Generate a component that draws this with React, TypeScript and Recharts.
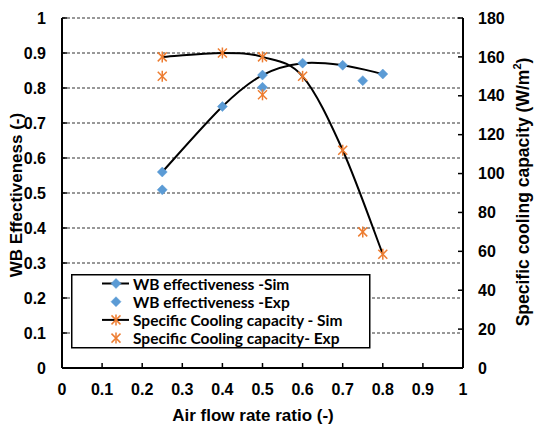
import React from 'react';
import { ComposedChart, Line, XAxis, YAxis, CartesianGrid, Legend, Label } from 'recharts';

// Air flow rate ratio values and series
const simX = [0.25, 0.4, 0.5, 0.6, 0.7, 0.8];
const simEffY = [0.56, 0.747, 0.837, 0.871, 0.865, 0.84];
const simCapY = [160, 162, 160, 150, 112, 58.5];
const expX = [0.25, 0.5, 0.75];
const expEffY = [0.509, 0.802, 0.821];
const expCapY = [150, 140.5, 70];

const xTicks = [0, 0.1, 0.2, 0.3, 0.4, 0.5, 0.6, 0.7, 0.8, 0.9, 1];
const leftTicks = [0, 0.1, 0.2, 0.3, 0.4, 0.5, 0.6, 0.7, 0.8, 0.9, 1];
const rightTicks = [0, 20, 40, 60, 80, 100, 120, 140, 160, 180];

const legendNames = [
  'WB effectiveness -Sim',
  'WB effectiveness -Exp',
  'Specific Cooling capacity - Sim',
  'Specific Cooling capacity- Exp',
];

const zip = (xs: number[], ys: number[]) => xs.map((x, i) => ({ x, y: ys[i] }));
const simEff = zip(simX, simEffY);
const expEff = zip(expX, expEffY);
const simCap = zip(simX, simCapY);
const expCap = zip(expX, expCapY);

const BLUE = '#5B9BD5';
const ORANGE = '#ED7D31';

// Excel-like smoothed line (Catmull-Rom style Bezier through every point)
const smoothCurve = (context: any) => {
  let pts: number[][] = [];
  return {
    areaStart() {},
    areaEnd() {},
    lineStart() {
      pts = [];
    },
    point(x: number, y: number) {
      pts.push([+x, +y]);
    },
    lineEnd() {
      const n = pts.length;
      if (!n) return;
      context.moveTo(pts[0][0], pts[0][1]);
      for (let i = 0; i < n - 1; i++) {
        const p0 = pts[i - 1] || pts[i];
        const p1 = pts[i];
        const p2 = pts[i + 1];
        const p3 = pts[i + 2] || pts[i + 1];
        const c1x = p1[0] + (p2[0] - p0[0]) / 6;
        const c1y = p1[1] + (p2[1] - p0[1]) / 6;
        const c2x = p2[0] - (p3[0] - p1[0]) / 6;
        const c2y = p2[1] - (p3[1] - p1[1]) / 6;
        context.bezierCurveTo(c1x, c1y, c2x, c2y, p2[0], p2[1]);
      }
    },
  };
};

const DiamondShape = ({ cx, cy }: { cx: number; cy: number }) => (
  <polygon
    points={`${cx},${cy - 5} ${cx + 5},${cy} ${cx},${cy + 5} ${cx - 5},${cy}`}
    fill={BLUE}
    stroke={BLUE}
    strokeWidth={0.5}
  />
);

const StarShape = ({ cx, cy }: { cx: number; cy: number }) => (
  <g stroke={ORANGE} strokeWidth={1.5} fill="none">
    <line x1={cx - 4.5} y1={cy - 4.5} x2={cx + 4.5} y2={cy + 4.5} />
    <line x1={cx - 4.5} y1={cy + 4.5} x2={cx + 4.5} y2={cy - 4.5} />
    <line x1={cx} y1={cy - 5.5} x2={cx} y2={cy + 5.5} />
  </g>
);

const diamondDot = (p: any) =>
  p.cx == null ? <g key={p.key || p.index} /> : <DiamondShape key={p.key || p.index} cx={p.cx} cy={p.cy} />;
const starDot = (p: any) =>
  p.cx == null ? <g key={p.key || p.index} /> : <StarShape key={p.key || p.index} cx={p.cx} cy={p.cy} />;

const LegendBox = () => {
  const rowH = 18.2;
  return (
    <svg width={300} height={75} style={{ display: 'block', overflow: 'visible' }}>
      <rect x={0.75} y={0.75} width={298} height={73} fill="#fff" stroke="#000" strokeWidth={1.5} />
      {legendNames.map((name, i) => {
        const cy = 9.5 + i * rowH;
        const hasLine = i === 0 || i === 2;
        return (
          <g key={name}>
            {hasLine && <line x1={31} y1={cy} x2={58} y2={cy} stroke="#000" strokeWidth={2} />}
            {i < 2 ? <DiamondShape cx={45} cy={cy} /> : <StarShape cx={45} cy={cy} />}
            <text
              x={62}
              y={cy}
              dominantBaseline="central"
              fontFamily="Lato, 'Open Sans', sans-serif"
              fontWeight="bold"
              fontSize={15.5}
              fill="#000"
            >
              {name}
            </text>
          </g>
        );
      })}
    </svg>
  );
};

const tickStyle = { fill: '#000', fontSize: 16, fontWeight: 'bold' as const };

export default function App() {
  return (
    <div
      style={{
        position: 'absolute',
        left: 0,
        top: 0,
        width: 538,
        height: 430,
        background: '#fff',
        fontFamily: "'Liberation Sans', Arial, sans-serif",
      }}
    >
      <ComposedChart width={538} height={430} margin={{ top: 18, right: 0, bottom: 0, left: 0 }}>
        <CartesianGrid
          yAxisId="l"
          horizontal
          vertical={false}
          stroke="#333"
          strokeDasharray="3 2"
          strokeWidth={1}
        />
        <XAxis
          dataKey="x"
          type="number"
          domain={[0, 1]}
          ticks={xTicks}
          interval={0}
          height={62}
          tick={tickStyle}
          tickSize={-5}
          tickMargin={21}
          axisLine={{ stroke: '#000', strokeWidth: 2 }}
          tickLine={{ stroke: '#000', strokeWidth: 1.5 }}
          allowDataOverflow
        >
          <Label
            content={() => (
              <text x={253} y={421} textAnchor="middle" fontSize={17} fontWeight="bold" fill="#000">
                Air flow rate ratio (-)
              </text>
            )}
          />
        </XAxis>
        <YAxis
          yAxisId="l"
          orientation="left"
          type="number"
          domain={[0, 1]}
          ticks={leftTicks}
          interval={0}
          width={62}
          tick={tickStyle}
          tickSize={-5}
          tickMargin={21}
          tickFormatter={(v: number) => String(v)}
          axisLine={{ stroke: '#000', strokeWidth: 2 }}
          tickLine={{ stroke: '#000', strokeWidth: 1.5 }}
        >
          <Label
            content={() => (
              <text
                x={16}
                y={195}
                transform="rotate(-90 16 195)"
                textAnchor="middle"
                dominantBaseline="central"
                fontSize={17}
                fontWeight="bold"
                fill="#000"
              >
                WB Effectiveness (-)
              </text>
            )}
          />
        </YAxis>
        <YAxis
          yAxisId="r"
          orientation="right"
          type="number"
          domain={[0, 180]}
          ticks={rightTicks}
          interval={0}
          width={75}
          tick={tickStyle}
          tickSize={-5}
          tickMargin={20}
          axisLine={{ stroke: '#000', strokeWidth: 2 }}
          tickLine={{ stroke: '#000', strokeWidth: 1.5 }}
        >
          <Label
            content={() => (
              <text
                x={523}
                y={192}
                transform="rotate(-90 523 192)"
                textAnchor="middle"
                dominantBaseline="central"
                fontSize={17.5}
                fontWeight="bold"
                fill="#000"
              >
                Specific cooling capacity (W/m
                <tspan baselineShift="super" fontSize={11}>2</tspan>
                <tspan>)</tspan>
              </text>
            )}
          />
        </YAxis>
        <Legend
          layout="horizontal"
          verticalAlign="middle"
          align="center"
          wrapperStyle={{ left: 71, top: 274, width: 300, height: 75 }}
          content={() => <LegendBox />}
        />
        <Line
          yAxisId="l"
          data={simEff}
          dataKey="y"
          type={smoothCurve as any}
          stroke="#000"
          strokeWidth={2}
          dot={diamondDot}
          activeDot={false}
          isAnimationActive={false}
        />
        <Line
          yAxisId="l"
          data={expEff}
          dataKey="y"
          stroke="none"
          dot={diamondDot}
          activeDot={false}
          isAnimationActive={false}
        />
        <Line
          yAxisId="r"
          data={simCap}
          dataKey="y"
          type={smoothCurve as any}
          stroke="#000"
          strokeWidth={2}
          dot={starDot}
          activeDot={false}
          isAnimationActive={false}
        />
        <Line
          yAxisId="r"
          data={expCap}
          dataKey="y"
          stroke="none"
          dot={starDot}
          activeDot={false}
          isAnimationActive={false}
        />
      </ComposedChart>
    </div>
  );
}
